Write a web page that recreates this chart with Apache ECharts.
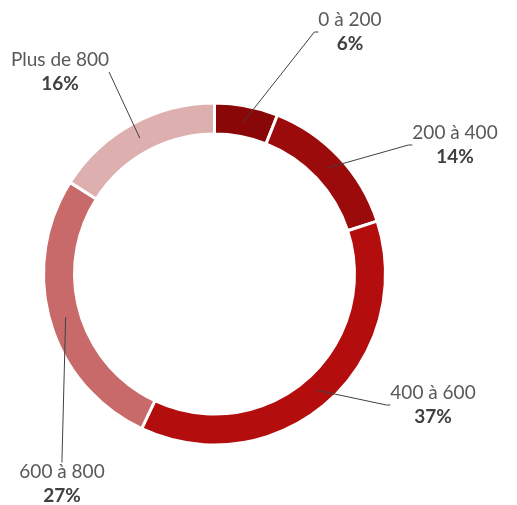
<!DOCTYPE html>
<html>
<head>
<meta charset="utf-8">
<script src="https://cdn.jsdelivr.net/npm/echarts@6/dist/echarts.min.js"></script>
<style>
html,body{margin:0;padding:0;background:#fff;}
#chart{width:517px;height:505px;}
</style>
</head>
<body>
<div id="chart"></div>
<script>
const categories = ['0 à 200', '200 à 400', '400 à 600', '600 à 800', 'Plus de 800'];
const values = [6, 14, 37, 27, 16];
const colors = ['#8A0707', '#9B0B0B', '#B30D0D', '#C96A6A', '#DDAFAF'];
// label box centres and paddings (layout only)
const labelPos = [[350, 32], [455, 145], [433, 405], [62, 484], [60, 55]];
const labelPad = [0, 0, 0, 0, [50, 0, 16, 0]];

const chart = echarts.init(document.getElementById('chart'), null, {renderer: 'canvas'});
const ringData = categories.map((c, i) => ({name: c, value: values[i], itemStyle: {color: colors[i]}}));
const labelData = categories.map((c, i) => ({
  name: c, value: values[i],
  label: {padding: labelPad[i]},
  labelLine: {length2: labelPad[i] ? 0 : 4}
}));

chart.setOption({
  animation: false,
  series: [
    {
      type: 'pie',
      center: [214.5, 274],
      radius: [140, 171],
      startAngle: 90,
      silent: true,
      itemStyle: {borderColor: '#ffffff', borderWidth: 3},
      label: {show: false},
      labelLine: {show: false},
      data: ringData
    },
    {
      type: 'pie',
      center: [214.5, 274],
      radius: [0, 155],
      startAngle: 90,
      silent: true,
      z: 3,
      itemStyle: {color: 'rgba(0,0,0,0)'},
      label: {
        show: true,
        position: 'outside',
        overflow: 'none',
        formatter: p => '{a|' + p.name + '}\n{b|' + p.value + '%}',
        align: 'center',
        rich: {
          a: {fontFamily: 'Lato', fontSize: 19, color: '#595959', lineHeight: 24, align: 'center'},
          b: {fontFamily: 'Lato', fontSize: 19, fontWeight: 'bold', color: '#404040', lineHeight: 24, align: 'center'}
        }
      },
      labelLine: {show: true, length: 10, length2: 4, lineStyle: {color: '#404040', width: 1}},
      labelLayout: p => ({
        x: labelPos[p.dataIndex][0],
        y: labelPos[p.dataIndex][1],
        align: 'center',
        verticalAlign: 'middle'
      }),
      data: labelData
    }
  ]
});
</script>
</body>
</html>
